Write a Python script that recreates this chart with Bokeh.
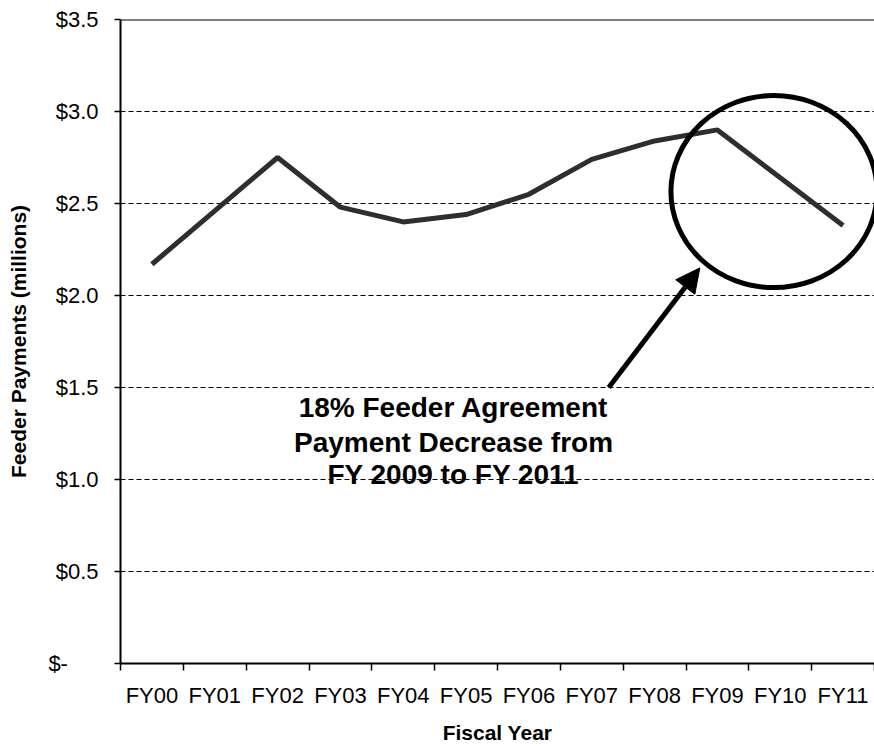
from bokeh.plotting import figure
from bokeh.models import FixedTicker, Span, Arrow, NormalHead, Range1d
from bokeh.core.properties import value
from bokeh.embed import file_html
from bokeh.resources import INLINE

# ---- data ----
categories = ["FY00", "FY01", "FY02", "FY03", "FY04", "FY05",
              "FY06", "FY07", "FY08", "FY09", "FY10", "FY11"]
payments = [2.17, 2.46, 2.75, 2.48, 2.40, 2.44, 2.55, 2.74, 2.84, 2.90, 2.64, 2.38]
y_ticks = [0, 0.5, 1.0, 1.5, 2.0, 2.5, 3.0, 3.5]
y_tick_labels = ["$-\u00a0\u00a0\u00a0\u00a0\u00a0", "$0.5", "$1.0", "$1.5", "$2.0", "$2.5", "$3.0", "$3.5"]
note_lines = ["18% Feeder Agreement", "Payment Decrease from", "FY 2009 to FY 2011"]

FONT = "Liberation Sans"
xs = list(range(len(categories)))

p = figure(width=874, height=746, output_backend="svg", toolbar_location=None,
           x_range=Range1d(-0.5, len(categories) - 0.5), y_range=Range1d(0, 3.5),
           min_border_left=120, min_border_right=0, min_border_top=19, min_border_bottom=83)
p.outline_line_color = None
p.background_fill_color = "white"
p.border_fill_color = "white"

# grid
p.xgrid.visible = False
p.ygrid.ticker = FixedTicker(ticks=y_ticks)
p.ygrid.grid_line_color = "black"
p.ygrid.grid_line_dash = "5 3"
p.ygrid.grid_line_width = 1

# x axis
xa = p.xaxis[0]
xa.ticker = FixedTicker(ticks=xs, minor_ticks=[i - 0.5 for i in range(len(categories) + 1)])
xa.major_label_overrides = {i: c for i, c in zip(xs, categories)}
xa.major_tick_out = 0
xa.major_tick_in = 0
xa.minor_tick_out = 7
xa.minor_tick_in = 0
xa.minor_tick_line_color = "black"
xa.minor_tick_line_width = 1.5
xa.axis_line_color = "black"
xa.axis_line_width = 2
xa.major_label_text_font = FONT
xa.major_label_text_font_size = "22px"
xa.major_label_text_color = "black"
xa.major_label_standoff = 12
xa.axis_label = "Fiscal Year"
xa.axis_label_text_font = FONT
xa.axis_label_text_font_style = "bold"
xa.axis_label_text_font_size = "21px"
xa.axis_label_text_color = "black"
xa.axis_label_standoff = 10

# y axis
ya = p.yaxis[0]
ya.ticker = FixedTicker(ticks=y_ticks)
ya.major_label_overrides = {t: l for t, l in zip(y_ticks, y_tick_labels)}
ya.major_tick_out = 6
ya.major_tick_in = 0
ya.major_tick_line_color = "black"
ya.major_tick_line_width = 1.5
ya.minor_tick_out = 0
ya.minor_tick_in = 0
ya.axis_line_color = "black"
ya.axis_line_width = 2
ya.major_label_text_font = FONT
ya.major_label_text_font_size = "22px"
ya.major_label_text_color = "black"
ya.major_label_standoff = 16
ya.axis_label = "Feeder Payments (millions)"
ya.axis_label_text_font = FONT
ya.axis_label_text_font_style = "bold"
ya.axis_label_text_font_size = "21px"
ya.axis_label_text_color = "black"
ya.axis_label_standoff = 15

# top border
p.add_layout(Span(location=3.5, dimension="width", line_color="black", line_width=2))

# data line
p.line(xs, payments, line_color="#2e2e2e", line_width=5)

# annotation: circle, arrow, text
p.ellipse(x=[9.9], y=[2.565], width=[3.28], height=[1.044],
          fill_color=None, line_color="black", line_width=5)
p.add_layout(Arrow(end=NormalHead(size=24, fill_color="black", line_color="black"),
                   x_start=7.27, y_start=1.5, x_end=8.72, y_end=2.15,
                   line_color="black", line_width=5))
p.text(x=[4.8] * 3, y=[1.391, 1.203, 1.027], text=note_lines,
       text_font=value(FONT), text_font_style="bold", text_font_size="28px",
       text_align="center", text_baseline="alphabetic", text_color="black")

open("out.html", "w").write(file_html(p, INLINE))
